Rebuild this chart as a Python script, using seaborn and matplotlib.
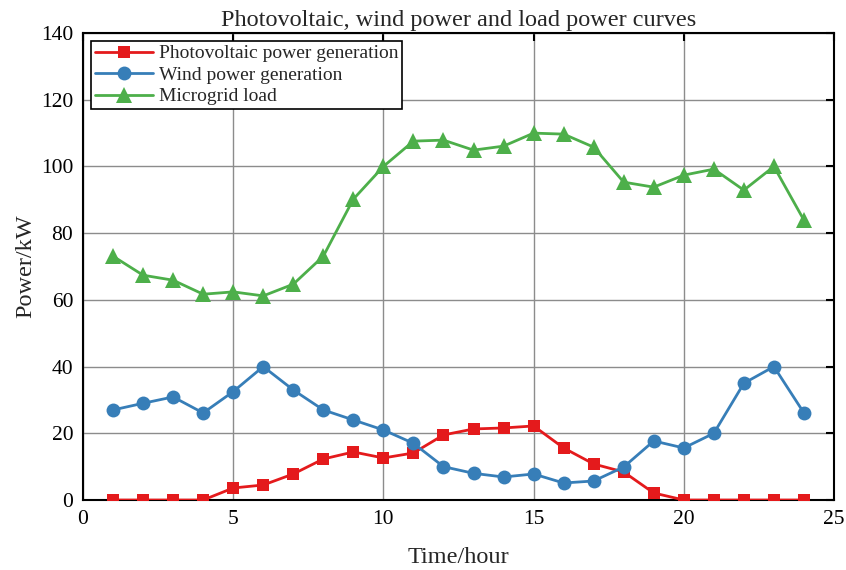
import matplotlib
matplotlib.use("Agg")
import matplotlib.pyplot as plt
import seaborn as sns
import pandas as pd

hours = list(range(1, 25))
pv = [0, 0, 0, 0, 3.6, 4.5, 7.8, 12.3, 14.4, 12.6, 14.1, 19.5,
      21.3, 21.6, 22.2, 15.6, 10.8, 8.4, 2.1, 0, 0, 0, 0, 0]
wind = [27, 29, 30.9, 26.1, 32.5, 40, 33, 27, 24, 21, 17, 10,
        8, 6.9, 7.8, 5.1, 5.7, 9.9, 17.7, 15.6, 20, 35, 40, 26.1]
load = [73.1, 67.4, 65.9, 61.7, 62.4, 61.2, 64.7, 73.1, 90.2, 100, 107.6, 107.9,
        104.9, 106.1, 110, 109.7, 105.8, 95.3, 93.8, 97.4, 99.2, 92.9, 100, 83.9]
series_names = ["Photovoltaic power generation", "Wind power generation", "Microgrid load"]

df = pd.DataFrame({
    "hour": hours * 3,
    "power": pv + wind + load,
    "series": [series_names[0]] * 24 + [series_names[1]] * 24 + [series_names[2]] * 24,
})

sns.set_style("white")
plt.rcParams["font.family"] = ["Liberation Serif", "DejaVu Serif"]

fig = plt.figure(figsize=(8.46, 5.70), dpi=100)
ax = fig.add_axes([0.0981, 0.1228, 0.8877, 0.8192])

palette = {series_names[0]: "#e41a1c", series_names[1]: "#377eb8", series_names[2]: "#4daf4a"}
markers = {series_names[0]: "s", series_names[1]: "o", series_names[2]: "^"}
sizes = {series_names[0]: 8, series_names[1]: 10, series_names[2]: 11}
for name in series_names:
    sub = df[df["series"] == name]
    sns.lineplot(data=sub, x="hour", y="power", ax=ax, color=palette[name],
                 marker=markers[name], markersize=sizes[name], markeredgewidth=0,
                 linewidth=2, label=name, zorder=3)

ax.set_xlim(0, 25)
ax.set_ylim(0, 140)
ax.set_xticks(range(0, 26, 5))
ax.set_yticks(range(0, 141, 20))
ax.grid(True, color="#8c8c8c", linewidth=1)
ax.set_axisbelow(True)
for s in ax.spines.values():
    s.set_color("black")
    s.set_linewidth(1.5)
    s.set_visible(True)
ax.tick_params(direction="in", length=6, width=1.5, top=True, right=True,
               labelsize=15.5, colors="black", pad=7)
ax.set_xlabel("Time/hour", fontsize=17.5, labelpad=13)
ax.set_ylabel("Power/kW", fontsize=17.5, labelpad=3)
ax.set_title("Photovoltaic, wind power and load power curves", fontsize=17.5, pad=5)

leg = ax.legend(loc="upper left", fontsize=14, frameon=True, fancybox=False,
                edgecolor="black", framealpha=1, borderpad=0.2, labelspacing=0.2,
                handlelength=3.0, handletextpad=0.3, borderaxespad=0.4)
leg.get_frame().set_linewidth(1.2)

fig.savefig("out.png", dpi=100)
